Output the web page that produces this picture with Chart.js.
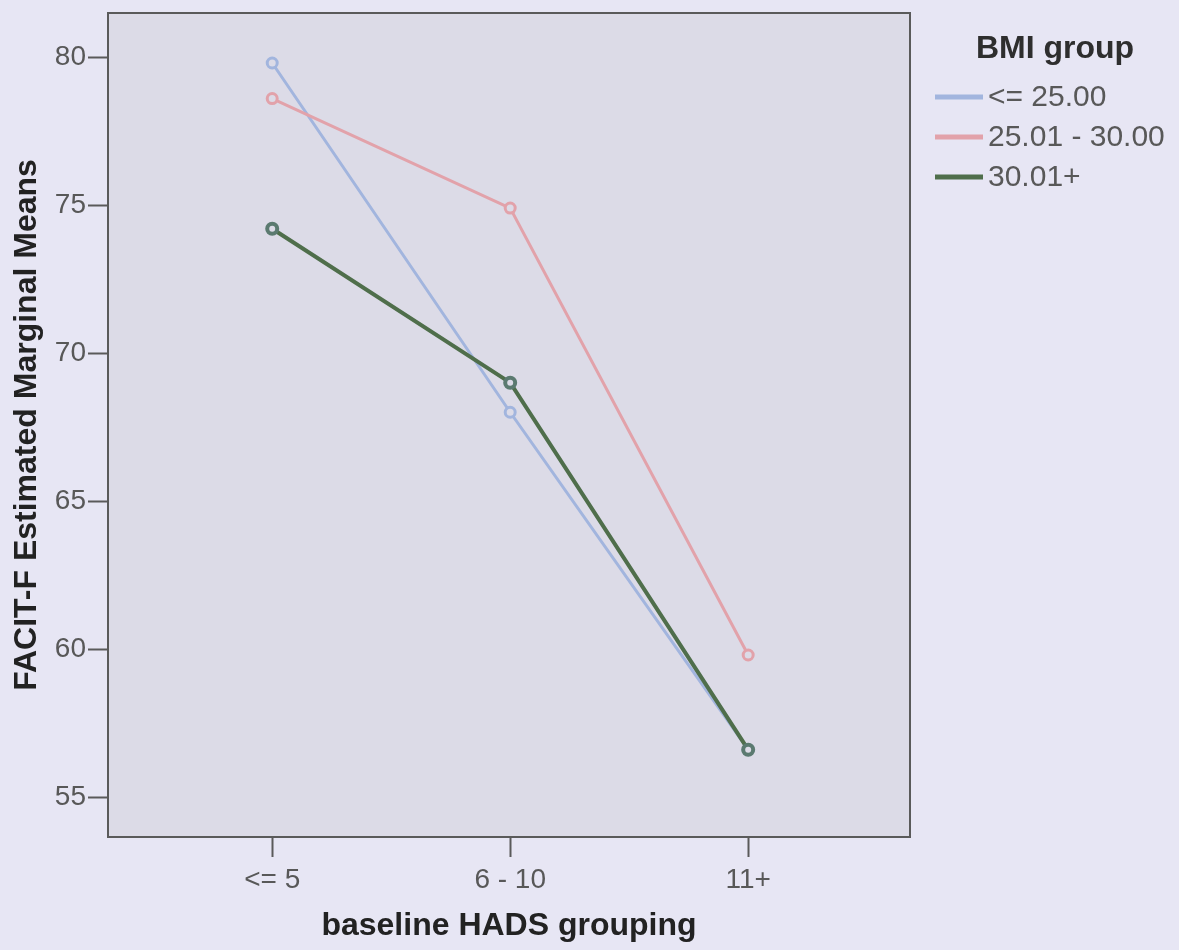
<!DOCTYPE html>
<html>
<head>
<meta charset="utf-8">
<title>FACIT-F by HADS and BMI</title>
<script src="https://cdn.jsdelivr.net/npm/chart.js@4"></script>
<style>
    html, body { margin: 0; padding: 0; background: #e7e6f4; }
    #wrap { width: 1179px; height: 950px; }
</style>
</head>
<body>
<div id="wrap"><canvas id="means-chart" width="1179" height="950"></canvas></div>
<script>
// categories on the x axis
const hadsGroups = ['<= 5', '6 - 10', '11+'];
// BMI groups (legend)
const bmiGroups = ['<= 25.00', '25.01 - 30.00', '30.01+'];
// estimated marginal means per BMI group
const bmiLow = [79.8, 68.0, 56.6];
const bmiMid = [78.6, 74.9, 59.8];
const bmiHigh = [74.2, 69.0, 56.6];
const yTicks = [55, 60, 65, 70, 75, 80];

const pageColor = '#e7e6f4';
const plotColor = '#dcdbe7';
const textColor = '#585858';
const font = "'Liberation Sans', Arial, sans-serif";

function toPoints(values) {
    return values.map((v, i) => ({ x: i, y: v }));
}

// background, plot frame and the legend
const decorations = {
    id: 'decorations',
    beforeDraw(chart) {
        const ctx = chart.ctx;
        const a = chart.chartArea;
        ctx.save();
        ctx.fillStyle = pageColor;
        ctx.fillRect(0, 0, chart.width, chart.height);
        ctx.fillStyle = plotColor;
        ctx.fillRect(a.left, a.top, a.right - a.left, a.bottom - a.top);
        ctx.restore();
    },
    afterDraw(chart) {
        const ctx = chart.ctx;
        const a = chart.chartArea;
        ctx.save();
        ctx.strokeStyle = '#5a5a5a';
        ctx.lineWidth = 2;
        ctx.strokeRect(a.left, a.top, a.right - a.left, a.bottom - a.top);

        // legend
        ctx.fillStyle = '#2e2e2e';
        ctx.font = 'bold 32px ' + font;
        ctx.textAlign = 'center';
        ctx.textBaseline = 'middle';
        ctx.fillText('BMI group', 1055, 49);

        ctx.font = '30px ' + font;
        ctx.textAlign = 'left';
        chart.data.datasets.forEach((ds, row) => {
            const y = 97 + row * 40;
            ctx.strokeStyle = ds.borderColor;
            ctx.lineWidth = 5;
            ctx.beginPath();
            ctx.moveTo(935, y);
            ctx.lineTo(983, y);
            ctx.stroke();
            ctx.fillStyle = textColor;
            ctx.fillText(ds.label, 988, y + 1);
        });
        ctx.restore();
    }
};

const ctx = document.getElementById('means-chart').getContext('2d');
const chart = new Chart(ctx, {
    type: 'line',
    data: {
        datasets: [
            {
                label: bmiGroups[0],
                data: toPoints(bmiLow),
                borderColor: '#a2b5de',
                borderWidth: 3,
                pointBackgroundColor: plotColor,
                pointBorderColor: '#a2b5de',
                order: 2
            },
            {
                label: bmiGroups[1],
                data: toPoints(bmiMid),
                borderColor: '#e2a2aa',
                borderWidth: 3,
                pointBackgroundColor: plotColor,
                pointBorderColor: '#e2a2aa',
                order: 1
            },
            {
                label: bmiGroups[2],
                data: toPoints(bmiHigh),
                borderColor: '#4f6e4b',
                borderWidth: 4,
                pointBackgroundColor: plotColor,
                pointBorderColor: '#5b7a70',
                order: 0
            }
        ]
    },
    options: {
        responsive: false,
        animation: false,
        elements: {
            line: { tension: 0 },
            point: { radius: 5, borderWidth: 2 }
        },
        layout: {
            padding: { left: 0, right: 269, top: 13, bottom: 0 }
        },
        scales: {
            x: {
                type: 'linear',
                min: -0.69,
                max: 2.68,
                afterBuildTicks: function(scale) {
                    scale.ticks = hadsGroups.map((g, i) => ({ value: i }));
                },
                afterFit: function(scale) {
                    scale.height = 113;
                    scale.paddingLeft = 0;
                    scale.paddingRight = 0;
                },
                border: { display: false },
                grid: {
                    drawOnChartArea: false,
                    drawTicks: true,
                    tickLength: 20,
                    tickWidth: 2,
                    tickColor: '#5a5a5a'
                },
                ticks: {
                    padding: 6,
                    color: textColor,
                    font: { family: font, size: 28 },
                    maxRotation: 0,
                    callback: function(value) {
                        return hadsGroups[value];
                    }
                },
                title: {
                    display: true,
                    text: 'baseline HADS grouping',
                    color: '#222222',
                    font: { family: font, size: 32, weight: 'bold' },
                    padding: { top: 0, bottom: 5 }
                }
            },
            y: {
                min: 53.65,
                max: 81.49,
                afterBuildTicks: function(scale) {
                    scale.ticks = yTicks.map(v => ({ value: v }));
                },
                afterFit: function(scale) {
                    scale.width = 108;
                    scale.paddingTop = 0;
                    scale.paddingBottom = 0;
                },
                border: { display: false },
                grid: {
                    drawOnChartArea: false,
                    drawTicks: true,
                    tickLength: 20,
                    tickWidth: 2,
                    tickColor: '#5a5a5a'
                },
                ticks: {
                    padding: 2,
                    color: textColor,
                    font: { family: font, size: 28 }
                },
                title: {
                    display: true,
                    text: 'FACIT-F Estimated Marginal Means',
                    color: '#222222',
                    font: { family: font, size: 32, weight: 'bold' },
                    padding: { top: 8, bottom: 0 }
                }
            }
        },
        plugins: {
            legend: { display: false },
            tooltip: { enabled: false }
        }
    },
    plugins: [decorations]
});
</script>
</body>
</html>
